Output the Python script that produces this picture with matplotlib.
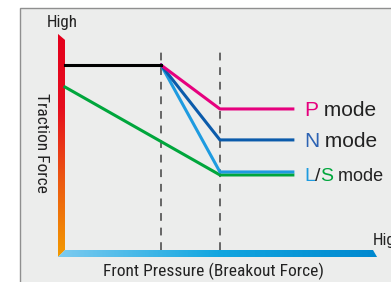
import matplotlib
matplotlib.use("Agg")
import matplotlib.pyplot as plt
import numpy as np
from matplotlib.colors import LinearSegmentedColormap
from matplotlib.patches import Polygon, Rectangle

# knees of the curves (front pressure, arbitrary units)
x_knee1 = 3.07
x_knee2 = 4.95
x_end = 7.28

# traction force levels (arbitrary units)
y_start = 8.6
green_start = 7.58
p_level = 6.56
n_level = 5.12
l_level = 3.63
s_level = 3.49
dash_top = 9.44

modes = ["P", "N", "L/S"]
mode_levels = [p_level, n_level, s_level]

narrow = ["Roboto Condensed", "Archivo Narrow", "DejaVu Sans"]
regular = ["Liberation Sans", "DejaVu Sans"]

# pixel-ish mapping: x unit = 31.3 px, y unit = 21.5 px, origin at (65, 250)
W, H = 391, 282
fig = plt.figure(figsize=(W / 100, H / 100), dpi=100)
ax = fig.add_axes([0, 0, 1, 1])
ax.set_xlim(-65 / 31.3, (W - 65) / 31.3)
ax.set_ylim((250 - H) / 21.5, 250 / 21.5)
ax.axis("off")

# grey panel
ax.add_patch(Rectangle((20 / W, -0.1), 1.2, 1 - 8 / H + 0.1, transform=ax.transAxes,
                       facecolor="#ecedec", edgecolor="#8f8f8f", lw=1.0, zorder=0))

# gradient axis bars
ybar = Polygon([(-0.224, 10.05), (0, 9.77), (0, 0), (-0.224, -0.326)], closed=True,
               facecolor="none", edgecolor="none")
ax.add_patch(ybar)
cmap_y = LinearSegmentedColormap.from_list("ry", ["#f39a00", "#ec5a10", "#e60e1e", "#e4001c"])
grad = np.linspace(0, 1, 256).reshape(-1, 1)
im = ax.imshow(grad, cmap=cmap_y, origin="lower", aspect="auto",
               extent=[-0.224, 0, -0.326, 10.05], zorder=2)
im.set_clip_path(ybar)

xbar = Polygon([(-0.224, -0.326), (0, 0), (9.84, 0), (9.97, -0.326)], closed=True,
               facecolor="none", edgecolor="none")
ax.add_patch(xbar)
cmap_x = LinearSegmentedColormap.from_list("bx", ["#7ccbf0", "#11a6e0", "#0088cf"])
im2 = ax.imshow(grad.T, cmap=cmap_x, origin="lower", aspect="auto",
                extent=[-0.224, 9.97, -0.326, 0], zorder=2)
im2.set_clip_path(xbar)

# dashed guides
for xk in [x_knee1, x_knee2]:
    ax.plot([xk, xk], [0, dash_top], color="#666666", lw=1.4, dashes=(4, 3.5), zorder=1)

# mode curves
lw = 2.2
ax.plot([0, x_knee2, x_end], [green_start, s_level, s_level], color="#00a63c", lw=lw, zorder=3)
ax.plot([x_knee1, x_knee2, x_end], [y_start, l_level, l_level], color="#1e9be0", lw=lw, zorder=3)
ax.plot([x_knee1, x_knee2, x_end], [y_start, n_level, n_level], color="#0b5bab", lw=lw, zorder=3)
ax.plot([x_knee1, x_knee2, x_end], [y_start, p_level, p_level], color="#e6007e", lw=lw, zorder=3)
ax.plot([0, x_knee1], [y_start, y_start], color="black", lw=lw, zorder=4)

fig.canvas.draw()
renderer = fig.canvas.get_renderer()


def fit_width(t, target_px, vertical=False):
    # scale font size so the text spans about target_px pixels
    bb = t.get_window_extent(renderer)
    size = bb.height if vertical else bb.width
    t.set_fontsize(t.get_fontsize() * target_px / size)


# axis texts
hi1 = ax.text(-0.096, 10.56, "High", fontsize=12, family=narrow, ha="center", va="center", color="#222222")
fit_width(hi1, 31)
ax.text(9.84, 0.42, "High", fontsize=hi1.get_fontsize(), family=narrow, ha="left", va="center",
        color="#222222")
yl = ax.text(-0.735, 5.0, "Traction Force", fontsize=12, family=narrow, rotation=270,
             ha="center", va="center", color="#222222")
fit_width(yl, 99, vertical=True)
xl = ax.text(4.76, -0.977, "Front Pressure (Breakout Force)", fontsize=13, family=narrow,
             ha="center", va="center", color="#222222")
fit_width(xl, 218)

# mode labels with coloured letters
label_parts = {
    "P": [("P", "#e6007e", 15), (" mode", "#222222", 15)],
    "N": [("N", "#2d63b3", 15), (" mode", "#222222", 15)],
    "L/S": [("L", "#1e9be0", 14), ("/", "#222222", 14), ("S", "#00a63c", 14), (" mode", "#222222", 13)],
}
inv = ax.transData.inverted()
for mode, level in zip(modes, mode_levels):
    x = 7.64
    for txt, col, fs in label_parts[mode]:
        t = ax.text(x, level, txt, fontsize=fs, family=regular, color=col,
                    ha="left", va="center_baseline")
        bb = t.get_window_extent(renderer)
        x = inv.transform((bb.x1, bb.y0))[0]

fig.savefig("out.png", dpi=100)
